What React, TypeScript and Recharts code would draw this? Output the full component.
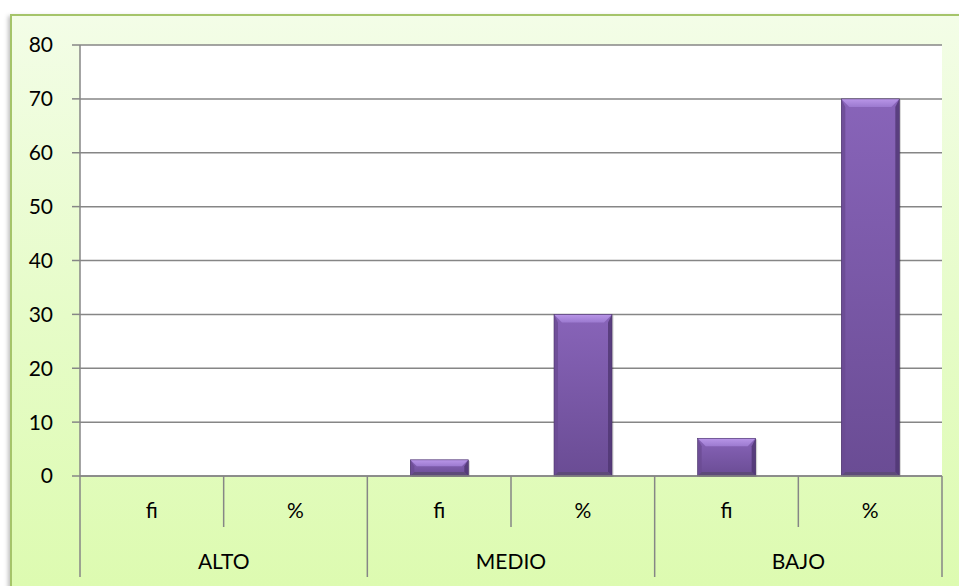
import React from 'react';
import { BarChart, Bar, XAxis, YAxis, CartesianGrid } from 'recharts';

const subLabels = ['fi', '%', 'fi', '%', 'fi', '%'];
const groupLabels = ['ALTO', 'ALTO', 'MEDIO', 'MEDIO', 'BAJO', 'BAJO'];
const values = [0, 0, 3, 30, 7, 70];
const yTicks = [0, 10, 20, 30, 40, 50, 60, 70, 80];

const data = subLabels.map((s, i) => ({ key: `${groupLabels[i]}-${s}-${i}`, sub: s, group: groupLabels[i], value: values[i] }));

const W = 959;
const H = 586;
const M = { top: 45, right: 17, bottom: 0, left: 0 };
const XH = 110;
const YW = 80;
const PLOT_W = W - M.left - M.right - YW;
const BAND = PLOT_W / data.length;
const FONT = 'Lato, "Open Sans", sans-serif';
const FS = 21;
const GRID = '#868686';

const BevelBar = (props: any) => {
  const { x, y, width, height } = props;
  if (!height || height <= 0) return null;
  const b = Math.min(8, height / 2.5);
  const s = Math.min(4, height / 3);
  return (
    <g>
      <rect x={x + 1.5} y={y + 1} width={width} height={height} fill="rgba(0,0,0,0.18)" />
      <rect x={x} y={y} width={width} height={height} fill="url(#barFace)" />
      <polygon points={`${x},${y} ${x + width},${y} ${x + width - b},${y + b} ${x + b},${y + b}`} fill="url(#barTop)" />
      <polygon points={`${x},${y} ${x + s},${y + b} ${x + s},${y + height - s} ${x},${y + height}`} fill="#6a4b92" opacity={0.8} />
      <polygon points={`${x + width},${y} ${x + width - s},${y + b} ${x + width - s},${y + height - s} ${x + width},${y + height}`} fill="#4f3672" opacity={0.8} />
      <polygon points={`${x},${y + height} ${x + s},${y + height - s} ${x + width - s},${y + height - s} ${x + width},${y + height}`} fill="#5e4a7a" />
      <rect x={x} y={y} width={width} height={height} fill="none" stroke="#4a3468" strokeWidth={0.6} />
    </g>
  );
};

const XTick = (props: any) => {
  const { x, y, payload, index } = props;
  const i = typeof index === 'number' ? index : payload.index;
  const left = x - BAND / 2;
  const isGroupStart = i % 2 === 0;
  const y0 = H - XH;
  const items: any[] = [];
  items.push(<line key="l" x1={left} y1={y0} x2={left} y2={isGroupStart ? y0 + 101 : y0 + 51} stroke={GRID} strokeWidth={1.5} />);
  if (i === data.length - 1) {
    items.push(<line key="r" x1={left + BAND} y1={y0} x2={left + BAND} y2={y0 + 101} stroke={GRID} strokeWidth={1.5} />);
  }
  items.push(
    <text key="t" x={x} y={y0 + 42} textAnchor="middle" fontSize={FS} fontFamily={FONT} fill="#000">
      {data[i].sub}
    </text>
  );
  if (!isGroupStart) {
    items.push(
      <text key="g" x={left} y={y0 + 93} textAnchor="middle" fontSize={FS} fontFamily={FONT} fill="#000">
        {data[i].group}
      </text>
    );
  }
  return <g>{items}</g>;
};

export default function App() {
  return (
    <div style={{ position: 'absolute', left: 0, top: 0, width: W, height: H, overflow: 'hidden' }}>
      <div
        style={{
          position: 'absolute',
          left: 10,
          top: 14,
          width: 970,
          height: 600,
          border: '2px solid #a5c46a',
          background: 'linear-gradient(to bottom, #f3fde7 0%, #e6fcc8 50%, #dcfbae 100%)',
          boxShadow: '-2px 2px 4px rgba(0,0,0,0.25)',
        }}
      />
      <div style={{ position: 'absolute', left: 0, top: 0 }}>
        <BarChart width={W} height={H} data={data} margin={M}>
          <defs>
            <linearGradient id="barFace" x1="0" y1="0" x2="0" y2="1">
              <stop offset="0%" stopColor="#8864b9" />
              <stop offset="100%" stopColor="#6a4c94" />
            </linearGradient>
            <linearGradient id="barTop" x1="0" y1="0" x2="0" y2="1">
              <stop offset="0%" stopColor="#b996e8" />
              <stop offset="100%" stopColor="#9c7ad0" />
            </linearGradient>
          </defs>
          <CartesianGrid vertical={false} stroke={GRID} strokeWidth={1.5} fill="#ffffff" />
          <XAxis
            dataKey="key"
            interval={0}
            tickLine={false}
            axisLine={{ stroke: GRID, strokeWidth: 1.5 }}
            tick={<XTick />}
            height={XH}
          />
          <YAxis
            width={YW}
            domain={[0, 80]}
            ticks={yTicks}
            interval={0}
            tickSize={8}
            tickMargin={19}
            tickLine={{ stroke: GRID, strokeWidth: 1.5 }}
            axisLine={{ stroke: GRID, strokeWidth: 1.5 }}
            tick={{ fontSize: FS, fontFamily: FONT, fill: '#000' }}
          />
          <Bar dataKey="value" barSize={58} isAnimationActive={false} shape={<BevelBar />} />
        </BarChart>
      </div>
    </div>
  );
}
